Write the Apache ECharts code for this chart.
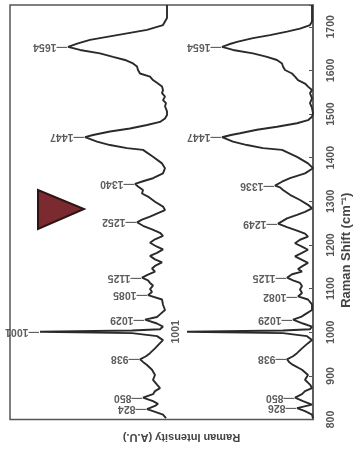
<!DOCTYPE html>
<html><head><meta charset="utf-8">
<script src="https://cdn.jsdelivr.net/npm/echarts@6/dist/echarts.min.js"></script>
<style>html,body{margin:0;padding:0;background:#fff}#c{width:354px;height:449px}</style>
</head><body><div id="c"></div>
<script>
// Raman shift (cm-1) and intensity (A.U.)
const shiftA = [803,806,811,819,824,831,836,842,850,858,865,872,880,891,902,914,925,932,938,945,952,963,975,982,991,995,998,1001,1004,1007,1013,1020,1029,1035,1041,1051,1063,1075,1085,1092,1099,1107,1113,1119,1125,1132,1139,1146,1152,1160,1167,1175,1182,1190,1196,1205,1213,1221,1228,1236,1244,1252,1258,1265,1273,1280,1288,1299,1311,1318,1326,1334,1340,1346,1353,1364,1376,1387,1402,1418,1422,1429,1437,1447,1452,1460,1467,1475,1482,1490,1498,1506,1518,1525,1532,1540,1548,1555,1563,1570,1578,1586,1593,1601,1609,1616,1624,1631,1639,1647,1654,1662,1670,1677,1685,1693,1704,1712,1720,1750];
const intensA = [1,2,4,14,20,12,9,14,24,14,12,7,10,14,12,15,20,24,27,21,17,12,7,4,10,8,35,127,35,7,4,10,22,10,7,2,4,5,19,15,17,14,17,19,25,19,12,15,12,5,12,17,10,4,10,17,12,4,7,15,24,30,25,17,9,2,4,12,19,25,24,29,32,24,14,4,2,5,14,24,40,57,70,82,74,57,37,20,7,2,0,0,2,1,4,2,5,4,5,9,14,17,27,29,30,34,42,54,67,87,99,89,77,60,40,20,4,2,0,0];
const shiftB = [803,806,811,819,826,834,842,850,858,865,872,880,891,902,914,925,932,938,945,952,963,975,982,991,995,998,1001,1004,1007,1013,1020,1029,1035,1041,1051,1064,1075,1082,1090,1098,1106,1113,1119,1125,1133,1139,1145,1151,1159,1166,1174,1182,1189,1195,1204,1212,1219,1226,1233,1241,1249,1254,1261,1269,1276,1284,1292,1303,1315,1326,1332,1336,1345,1353,1364,1376,1387,1402,1418,1422,1429,1437,1447,1452,1456,1464,1471,1479,1486,1494,1502,1514,1525,1536,1548,1555,1563,1570,1578,1586,1593,1601,1609,1616,1624,1631,1639,1647,1654,1660,1666,1674,1681,1689,1696,1704,1712,1750];
const intensB = [0,0,1,8,16,1,10,18,11,8,1,3,8,5,11,20,24,26,20,16,11,5,1,6,5,30,126,30,3,1,10,20,12,8,1,1,5,15,11,13,11,13,20,26,21,11,15,11,5,11,18,11,5,10,18,13,5,8,16,26,35,31,26,16,8,1,5,13,23,30,33,38,31,23,8,0,5,16,31,50,66,80,91,82,73,56,36,16,5,1,0,1,3,1,3,1,5,8,15,18,21,28,30,31,36,46,60,80,91,84,75,60,43,26,13,3,1,1];
const offsetA = 146;           // vertical stacking offset of the upper spectrum
const peaksA = [824,850,938,1001,1029,1085,1125,1252,1340,1447,1654];
const peaksB = [826,850,938,1029,1082,1125,1249,1336,1447,1654];
const peaksBside = [1001];
const shiftTicks = [800,900,1000,1100,1200,1300,1400,1500,1600,1700];

const FONT = '"Liberation Sans", Arial, sans-serif';
const lineA = shiftA.map((w,i)=>[offsetA+intensA[i], w]);
const lineB = shiftB.map((w,i)=>[intensB[i], w]);
const ptsA = peaksA.map(w=>({name:String(w), value:[offsetA+intensA[shiftA.indexOf(w)], w]}));
const ptsB = peaksB.map(w=>({name:String(w), value:[intensB[shiftB.indexOf(w)], w]}));
const ptsBs = peaksBside.map(w=>({name:String(w), value:[intensB[shiftB.indexOf(w)], w]}));

const peakLabel = {show:true, position:'left', distance:1, rotate:180, align:'left', verticalAlign:'middle',
  formatter:p=>'\u2014'+p.name, fontSize:10.5, fontWeight:'bold', color:'#333', fontFamily:FONT};

const chart = echarts.init(document.getElementById('c'), null, {renderer:'canvas'});
chart.setOption({
  animation:false,
  backgroundColor:'#fff',
  grid:{left:10, right:41, top:5, bottom:29.5, show:true, borderColor:'#555', borderWidth:1.5,
    containLabel:false, outerBoundsMode:'none'},
  xAxis:{type:'value', inverse:true, min:0, max:303,
    axisLine:{show:false}, axisTick:{show:false}, axisLabel:{show:false}, splitLine:{show:false},
    name:'Raman Intensity (A.U.)', nameLocation:'middle', nameGap:12, nameRotate:180, nameMoveOverlap:false,
    nameTextStyle:{fontSize:11, fontWeight:'bold', color:'#444', fontFamily:FONT, padding:[0,40,0,0]}},
  yAxis:{type:'value', position:'right', min:800, max:1750, interval:100,
    axisLine:{show:true, lineStyle:{color:'#555', width:1.5}},
    axisTick:{show:true, inside:true, length:4, lineStyle:{color:'#555'}},
    axisLabel:{rotate:90, margin:13, fontSize:10.5, fontWeight:'bold', color:'#555', fontFamily:FONT,
      formatter:v=>shiftTicks.includes(v)?String(v):''},
    splitLine:{show:false},
    name:'Raman Shift (cm\u207B\u00B9)', nameLocation:'middle', nameGap:27, nameRotate:90, nameMoveOverlap:false,
    nameTextStyle:{fontSize:13, fontWeight:'bold', color:'#444', fontFamily:FONT, padding:[0,76,0,0]}},
  series:[
    {type:'line', data:lineA, showSymbol:false, lineStyle:{color:'#2a2a2a', width:1.9}, silent:true},
    {type:'line', data:lineB, showSymbol:false, lineStyle:{color:'#2a2a2a', width:1.9}, silent:true},
    {type:'scatter', data:ptsA, symbolSize:0, label:peakLabel, silent:true},
    {type:'scatter', data:ptsB, symbolSize:0, label:peakLabel, silent:true},
    {type:'scatter', data:ptsBs, symbolSize:0, silent:true,
      label:{show:true, position:'left', distance:5, rotate:90, align:'center', verticalAlign:'bottom',
        formatter:p=>p.name, fontSize:10.5, fontWeight:'bold', color:'#333', fontFamily:FONT}}
  ],
  graphic:[{type:'polygon', shape:{points:[[38,190],[38,229],[84,209]]},
    style:{fill:'#7b2b2f', stroke:'#2e1515', lineWidth:2}}]
});
</script></body></html>
